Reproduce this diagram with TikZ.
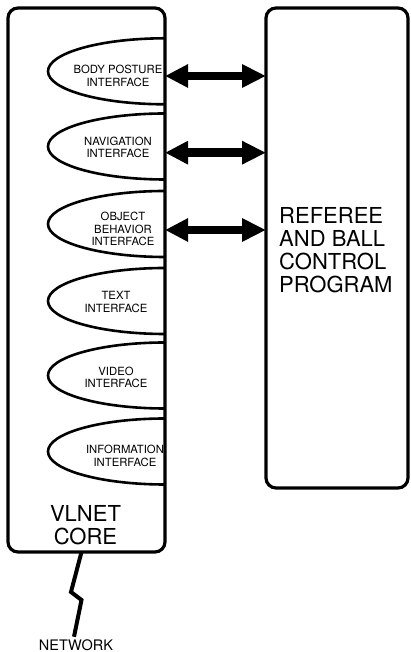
\documentclass[tikz,border=0pt]{standalone}
\usepackage{fontspec}
\setmainfont{TeX Gyre Heros}
\usetikzlibrary{arrows.meta}
\begin{document}
\begin{tikzpicture}[x=1pt,y=1pt,
  frame/.style={draw, line width=3.2pt, rounded corners=10pt, inner sep=0pt, outer sep=0pt},
  lobe/.style={line width=2.6pt},
  small/.style={align=center, inner sep=0pt, font=\fontsize{11.3}{12.6}\selectfont},
  big/.style={inner sep=0pt, font=\fontsize{22}{23.2}\selectfont},
  link/.style={line width=8.5pt, {Triangle[length=23pt,width=22pt]}-{Triangle[length=24pt,width=22pt]}},
  bolt/.style={line width=4pt, line join=miter}]
\useasboundingbox (0,0) rectangle (410,652);

% the two main blocks
\node[frame, minimum width=157pt, minimum height=544pt] (core) at (86.5,372) {};
\node[frame, minimum width=142pt, minimum height=480pt] (ref) at (337,404) {};

% half-ellipse interface lobes hanging off the core's right side
\foreach \c in {580.7,505.5,428,351,276.5,200.5}
  \draw[lobe] (165,\c+33) arc[start angle=90, end angle=270, x radius=117pt, y radius=33pt];

% interface labels
\node[small] (bp)   at (118,576)   {BODY POSTURE\\INTERFACE};
\node[small] (nav)  at (118,504.5) {NAVIGATION\\INTERFACE};
\node[small] (obj)  at (123,423)   {OBJECT\\BEHAVIOR\\INTERFACE};
\node[small] (txt)  at (116,350)   {TEXT\\INTERFACE};
\node[small] (vid)  at (116,274.5) {VIDEO\\INTERFACE};
\node[small] (info) at (125,196)   {INFORMATION\\INTERFACE};

% block labels
\node[big, align=left, anchor=west] (refl) at (279,402) {REFEREE\\AND BALL\\CONTROL\\PROGRAM};
\node[big, align=center] (corel) at (85.5,127) {VLNET\\CORE};
\node[inner sep=0pt, font=\fontsize{14.5}{16}\selectfont] (net) at (76,7) {NETWORK};

% two-way links between the interfaces and the control program
\coordinate (l1) at (0,576);
\coordinate (l2) at (0,499.3);
\coordinate (l3) at (0,422);
\draw[link] (core.east |- l1) -- (ref.west |- l1);
\draw[link] (core.east |- l2) -- (ref.west |- l2);
\draw[link] (core.east |- l3) -- (ref.west |- l3);

% network lightning bolt
\draw[bolt] ([xshift=-5pt]core.south) -- (71,60) -- (81.5,52) -- ([xshift=-2pt,yshift=2.5pt]net.north);
\end{tikzpicture}
\end{document}
